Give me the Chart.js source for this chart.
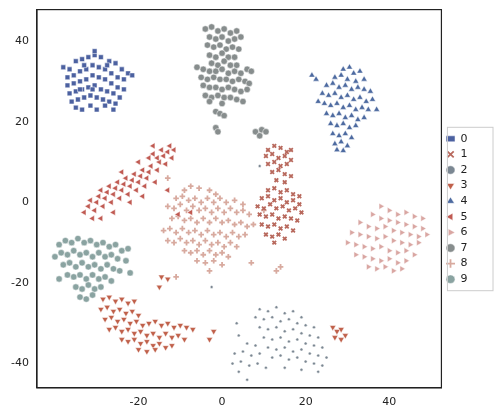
<!DOCTYPE html>
<html><head><meta charset="utf-8">
<script src="https://cdn.jsdelivr.net/npm/chart.js@4"></script>
<style>body{margin:0;background:#fff}#wrap{width:497px;height:412px}</style>
</head><body><div id="wrap"><canvas id="c"></canvas></div>
<script>
const labels = ["0","1","2","3","4","5","6","7","8","9"];
const colors = ["#4c61a0","#b8695d","#7b8792","#c0604a","#4d6aa0","#c05a52","#d9a6a2","#878d8d","#d8aa9f","#8aa3a1"];
const shapes = ["rect","crossRot","circle","triangle","triangle","triangle","triangle","circle","cross","pentagon"];
const rotations = [0,0,0,180,0,-90,90,0,0,0];

const pts0 = [[-38,33.5],[-36.5,33],[-35,35],[-33.5,35.5],[-32,36],[-30.5,36.5],[-29,36],[-27,35],[-25.5,34.5],[-24,33],[-22.5,32],[-21.5,31.5],
[-37,31],[-35.5,31.5],[-34,32.5],[-32.5,33],[-31,34],[-29.5,33.5],[-28,33],[-26.5,32],[-25,31],[-23.5,30.5],
[-37,29],[-35.5,29.5],[-34,30],[-32.5,30.5],[-31,31.5],[-29.5,31],[-28,30.5],[-26.5,29.5],[-25,28.5],[-23.5,28],
[-36.5,27],[-35,27.5],[-33.5,28],[-32,28.5],[-30.5,29],[-29,28],[-27.5,27.5],[-26,27],[-24.5,26],
[-36,25],[-34.5,25.5],[-33,26],[-31.5,26.5],[-30,26],[-28.5,25.5],[-27,25],[-25.5,24.5],
[-35,23.5],[-33.5,23],[-31.5,24],[-30,23],[-28,24],[-26,23],[-30.5,37.5],[-33,34],[-27.5,34],[-31,28],[-34,28]];
const pts7 = [[-4,43],[-2.5,43.5],[-1,42.5],[0.5,43],[2,42],[3.5,42.5],[4.5,41],[-3,41],[-1.5,40.5],[0,41],[1.5,40],[3,40.5],
[-3.5,39],[-2,38.5],[-0.5,39],[1,38],[2.5,38.5],[4,38],[-3,36.5],[-1.5,36],[0,37],[1.5,36],[3,36],[-2.5,34.5],[-1,34],[0.5,35],[2,34],[3.5,34],
[-6,33.5],[-4.5,33],[-3,32.5],[-1.5,32.5],[0,33],[1.5,32],[3,32.5],[4.5,32],[6,33],[7,32.5],
[-5,31],[-3.5,30.5],[-2,31],[-0.5,30.5],[1,30.5],[2.5,30],[4,30.5],[5.5,30],[6.5,29.5],
[-4.5,29],[-3,28.5],[-1.5,28.5],[0,28],[1.5,28.5],[3,28],[4.5,27.5],[6,28],
[-4,26.5],[-2.5,26],[-1,26.5],[0.5,26],[2,26],[3.5,25.5],[5,25],[-3,25],[0,24.5],
[-1.5,22.5],[-0.5,22],[0.5,21.5],[-1.5,18.5],[-1,17.5],[8,17.5],[9.5,18],[10.5,17.5],[9,16.5]];
const pts4 = [[21.5,31.5],[22.5,30.5],[29,33],[30.5,33.5],[31.5,32],[33,32.5],[27,31],[28.5,31.5],[30,30.5],[32,30],[34,30.5],
[25,29],[26.5,29.5],[28,28.5],[29.5,29],[31,28],[32.5,28.5],[34,28],[35.5,27.5],[24,27],[25.5,26.5],[27,27],[28.5,26],[30,26.5],[31.5,25.5],[33,26],[34.5,25],[36,25.5],
[23,25],[24.5,24.5],[26,24],[27.5,24.5],[29,23.5],[30.5,24],[32,23],[33.5,23.5],[35,23],[37,23],
[25,22],[26.5,21.5],[28,22],[29.5,21],[31,21.5],[32.5,20.5],[34,21],[26,19.5],[27.5,19],[29,19.5],[30.5,18.5],[32,19],
[26.5,17],[28,16.5],[29.5,17],[31,16],[27,14.5],[28.5,15],[30,14],[27.5,13],[29,12.8]];
const pts5 = [[-33,-2.5],[-32,-1],[-31.5,0.5],[-30.5,-2],[-30,0],[-29.5,1.5],[-29,3],[-28.5,-1],[-28,1],[-27.5,2.5],[-27,4],
[-26.5,0],[-26,2],[-25.5,3.5],[-25,5],[-24.5,1],[-24,3],[-23.5,4.5],[-23,6],[-22.5,2],[-22,4],[-21.5,5.5],[-21,7],
[-20.5,3],[-20,5],[-19.5,6.5],[-19,8],[-18.5,4],[-18,6],[-17.5,7.5],[-17,9],[-16,5],[-15.5,8],[-15,10],
[-17.5,11],[-16.5,12],[-15.5,11],[-14.5,13],[-14,11.5],[-13.5,9.5],[-13,12.5],[-12.5,14],[-12,11],[-11.5,13],[-16.5,14],[-13,3],[-7.5,-2.5],[-29,-4],
[-31,-4],[-26,-2.5],[-22,0],[-19,1.5],[-24,7.5],[-20,10],[-10.5,-3]];
const pts1 = [[11,13],[12.5,14],[14,13.5],[15.5,12.5],[16.5,13],[10.5,11.5],[12,12],[13.5,11],[15,11.5],[16.5,10.5],
[11,9.5],[12.5,10],[14,9],[15.5,9.5],[12,7.5],[13.5,8],[15,7],[16.5,6.5],[13,5.5],[15,5],
[11,3],[12.5,3.5],[14,2.5],[15.5,3],[17,2],[18.5,1.5],[9.5,1],[11,1.5],[12.5,0.5],[14,1],[15.5,0],[17,0.5],[18.5,-0.5],
[8.5,-1],[10,-1.5],[11.5,-0.5],[13,-1.5],[14.5,-1],[16,-2],[17.5,-1.5],[19,-2.5],[9,-3],[10.5,-3.5],[12,-3],[13.5,-4],[15,-3.5],[16.5,-4],[18,-4.5],
[9.5,-5.5],[11,-6],[12.5,-5.5],[14,-6.5],[15.5,-6],[17,-7],[10.5,-8],[12,-8.5],[13.5,-8],[15,-9],[12.5,-10]];
const pts8 = [[-9,3],[-7.5,4],[-5.5,3.5],[-3,3],[-1.5,2],[-11,1],[-9.5,1.5],[-8,0.5],[-6.5,1],[-5,0],[-3.5,1],[-2,0],[-0.5,1],[1,0],[3,0.5],[5,-0.5],
[-13,-1],[-11.5,-1.5],[-10,-0.5],[-8.5,-2],[-7,-1],[-5.5,-2],[-4,-1.5],[-2.5,-2.5],[-1,-1.5],[0.5,-2.5],[2,-1.5],[3.5,-2.5],[5,-2],[6.5,-3],
[-12,-4],[-10.5,-3.5],[-9,-4.5],[-7.5,-4],[-6,-5],[-4.5,-4],[-3,-5],[-1.5,-4],[0,-5],[1.5,-4.5],[3,-5.5],[4.5,-5],[6,-6],[7.5,-5.5],
[-14,-7],[-12.5,-6.5],[-11,-7.5],[-9.5,-6.5],[-8,-7.5],[-6.5,-7],[-5,-8],[-3.5,-7],[-2,-8],[-0.5,-7.5],[1,-8.5],[2.5,-7.5],[4,-8.5],[5.5,-8],
[-13,-9.5],[-11.5,-10],[-10,-9],[-8.5,-10],[-7,-9.5],[-5.5,-10.5],[-4,-9.5],[-2.5,-10.5],[-1,-10],[0.5,-11],[2,-10],[3.5,-11],
[-9,-12],[-7.5,-12.5],[-6,-12],[-4.5,-13],[-3,-12],[-1.5,-13],[0,-12.5],[1.5,-13.5],[-6,-14.5],[-4,-15],[-2,-14.5],[0,-15.5],[-3,-17],
[7,-15],[13,-17],[14,-16],[-11,-18.5],[10,-2],[-13,6]];
const pts6 = [[38,-1],[40,-2],[42,-3],[44,-2.5],[46,-3.5],[48,-4],[36,-3],[38,-4],[40,-4.5],[42,-5],[44,-5.5],[46,-6],[48,-6.5],
[33,-5],[35,-6],[37,-6.5],[39,-6],[41,-7],[43,-7.5],[45,-8],[47,-8.5],[49,-8],[31,-7.5],[33,-8],[35,-8.5],[37,-9],[39,-8.5],[41,-9.5],[43,-10],[45,-10.5],[47,-10],
[30,-10],[32,-10.5],[34,-11],[36,-11.5],[38,-11],[40,-12],[42,-12.5],[44,-12],[46,-13],[32,-13],[34,-13.5],[36,-14],[38,-14.5],[40,-14],[42,-15],[44,-14.5],
[35,-16],[37,-16.5],[39,-16],[41,-17],[43,-16.5]];
const pts9 = [[-39,-10.5],[-37.5,-9.5],[-36,-10],[-34.5,-9],[-33,-10],[-31.5,-9.5],[-30,-10.5],[-28.5,-10],[-27,-11],[-25.5,-10.5],[-24,-12],[-22.5,-11.5],
[-40,-13.5],[-38.5,-12.5],[-37,-13],[-35.5,-12],[-34,-13],[-32.5,-12.5],[-31,-13.5],[-29.5,-12.5],[-28,-13.5],[-26.5,-13],[-25,-14],[-23,-14.5],
[-38,-15.5],[-36.5,-15],[-35,-16],[-33.5,-15],[-32,-16],[-30.5,-15.5],[-29,-16.5],[-27.5,-15.5],[-26,-16.5],[-24.5,-17],
[-37,-18],[-35.5,-18.5],[-34,-18],[-32.5,-19],[-31,-18],[-29.5,-19],[-28,-18.5],[-26.5,-19.5],[-35,-21],[-33.5,-21.5],[-32,-20.5],[-30.5,-21.5],[-29,-21],
[-34,-23.5],[-32.5,-24],[-31,-23],[-22,-17.5],[-39,-19]];
const pts3 = [[-28.5,-24],[-27,-23.5],[-25.5,-24.5],[-24,-24],[-22.5,-25],[-21,-24.5],[-29,-26.5],[-27.5,-26],[-26,-27],[-24.5,-26.5],[-23,-27.5],[-21.5,-27],[-20,-28],
[-28,-29],[-26.5,-28.5],[-25,-29.5],[-23.5,-29],[-22,-30],[-20.5,-29.5],[-19,-30.5],[-17.5,-30],[-16,-29.5],[-14.5,-30.5],[-13,-30],[-11.5,-31],[-10,-30.5],[-8.5,-31],[-7,-31.5],
[-27,-31.5],[-25.5,-31],[-24,-32],[-22.5,-31.5],[-21,-32.5],[-19.5,-32],[-18,-33],[-16.5,-32.5],[-15,-33.5],[-13.5,-32.5],[-12,-33.5],[-10.5,-33],[-9,-34],
[-24,-34],[-22.5,-34.5],[-21,-34],[-19.5,-35],[-18,-34.5],[-16.5,-35.5],[-15,-35],[-13.5,-36],[-12,-35.5],[-20,-36.5],[-18,-37],[-16,-36.5],
[-14.5,-18.5],[-15,-21],[-13,-19],[26.5,-31],[27.5,-32],[28.5,-31.5],[29.5,-33],[27,-33.5],[28.5,-34],[-2,-32],[-3,-34]];
const pts2 = [[9,-26.5],[11,-27],[13,-26],[15,-27.5],[17,-27],[19,-28.5],[8,-28.5],[10,-29],[12,-28.5],[14,-29.5],[16,-29],[18,-30],[20,-30.5],[22,-31],
[9,-31],[11,-31.5],[13,-31],[15,-32],[17,-31.5],[19,-32.5],[21,-33],[23,-33.5],[10,-33.5],[12,-34],[14,-33.5],[16,-34.5],[18,-34],[20,-35],[22,-35.5],[24,-36],
[6,-35],[8,-35.5],[11,-36],[13,-36.5],[15,-36],[17,-37],[19,-36.5],[21,-37.5],[23,-38],[25,-38.5],
[3,-37.5],[5,-37],[7,-38],[9,-37.5],[12,-38.5],[14,-38],[16,-39],[18,-38.5],[20,-39.5],[22,-40],[24,-40.5],
[2.5,-40],[4.5,-39.5],[6.5,-40.5],[8.5,-40],[10.5,-41],[15,-41],[19,-41.5],[23,-42],[4,-42],[3.5,-30],[4,-33],[9,9],[-2.5,-21],[6,-44]];

const allPts = [pts0,pts1,pts2,pts3,pts4,pts5,pts6,pts7,pts8,pts9];
const sizes = [3.4,2.6,1.5,3.6,3.6,3.6,3.6,3.2,2.8,3.2];

new Chart(document.getElementById("c"), {
  type: "scatter",
  data: {
    datasets: labels.map((l, i) => ({
      label: l,
      data: allPts[i].map(p => ({x: p[0], y: p[1]})),
      pointStyle: shapes[i],
      pointRotation: rotations[i],
      pointRadius: sizes[i],
      backgroundColor: colors[i],
      borderColor: i === 1 || i === 8 ? colors[i] : "#ffffff",
      borderWidth: i === 1 || i === 8 ? 1.8 : 0.5,
    })),
  },
  options: {
    responsive: true,
    maintainAspectRatio: false,
    animation: false,
    layout: {padding: {top: 6, right: 2, bottom: 0, left: 8}},
    plugins: {
      legend: {
        position: "right",
        labels: {
          usePointStyle: true, pointStyleWidth: 9, boxWidth: 6, boxHeight: 6, padding: 4.6,
          font: {size: 11, family: "DejaVu Sans"}, color: "#222",
          generateLabels: chart => Chart.defaults.plugins.legend.labels.generateLabels(chart)
            .map(it => Object.assign(it, {text: it.text + "     "})),
        },
      },
      tooltip: {enabled: false},
    },
    scales: {
      x: {
        min: -44.3, max: 52.5,
        grid: {display: false, tickLength: 5, tickColor: "#222"},
        border: {color: "#222", width: 1.2},
        ticks: {stepSize: 20, callback: v => (v % 20 === 0 && v >= -40 && v <= 40) ? v : null, color: "#222", font: {size: 11, family: "DejaVu Sans"}},
      },
      y: {
        min: -46, max: 47.8,
        grid: {display: false, tickLength: 5, tickColor: "#222"},
        border: {color: "#222", width: 1.2},
        ticks: {stepSize: 20, callback: v => (v % 20 === 0 && v >= -40 && v <= 40) ? v : null, color: "#222", font: {size: 11, family: "DejaVu Sans"}},
      },
    },
  },
  plugins: [{
    id: "frame",
    afterDraw(chart) {
      const a = chart.chartArea, ctx = chart.ctx, lg = chart.legend;
      ctx.save();
      ctx.strokeStyle = "#222"; ctx.lineWidth = 1.2;
      ctx.strokeRect(a.left, a.top, a.right - a.left, a.bottom - a.top);
      ctx.strokeStyle = "#ccc"; ctx.lineWidth = 1;
      const t = lg.legendHitBoxes[0].top - 6, b = lg.legendHitBoxes[9].top + lg.legendHitBoxes[9].height + 6;
      ctx.strokeRect(lg.left + 6, t, lg.right - lg.left - 8, b - t);
      ctx.restore();
    },
  }],
});
</script></body></html>
